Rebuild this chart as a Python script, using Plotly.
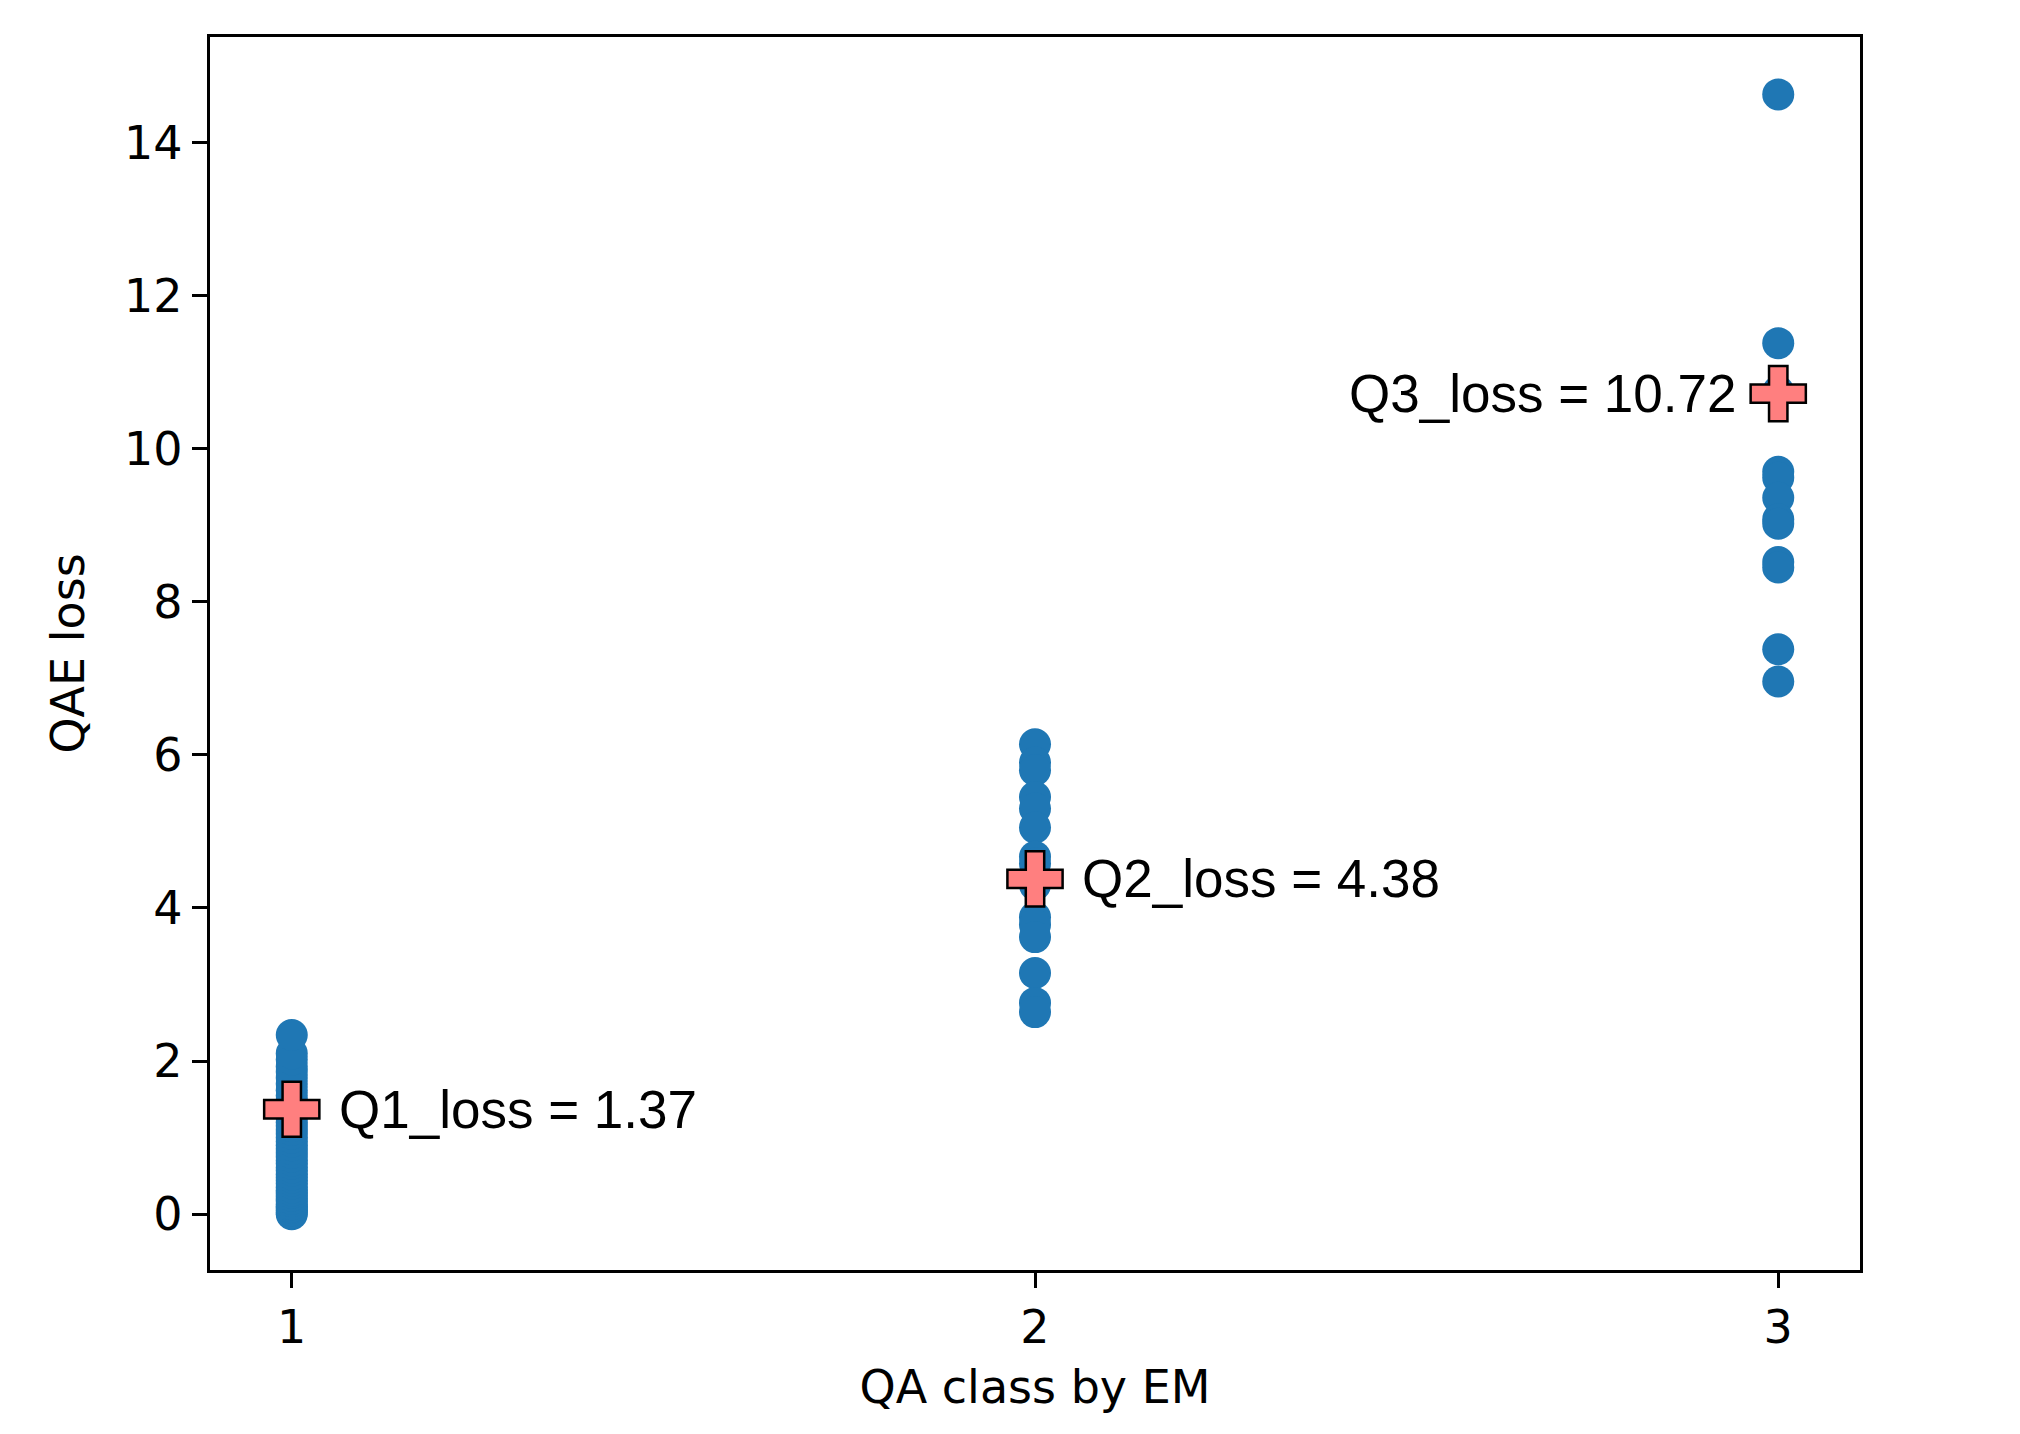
import plotly.graph_objects as go

# QAE loss per sample, grouped by the QA class assigned by EM
q1_loss = [0.00, 0.02, 0.05, 0.08, 0.10, 0.13, 0.17, 0.20, 0.24, 0.28, 0.31, 0.35,
           0.40, 0.44, 0.48, 0.52, 0.57, 0.61, 0.66, 0.70, 0.75, 0.80, 0.85, 0.90,
           0.95, 1.00, 1.05, 1.10, 1.15, 1.20, 1.26, 1.31, 1.37, 1.42, 1.48, 1.55,
           1.62, 1.70, 1.78, 1.86, 1.93, 2.02, 2.10, 2.34]
q2_loss = [6.14, 5.90, 5.80, 5.45, 5.30, 5.05, 4.67, 4.58, 4.42, 4.30,
           3.88, 3.78, 3.62, 3.15, 2.76, 2.64]
q3_loss = [14.63, 11.38, 10.75, 9.70, 9.62, 9.36, 9.08, 9.02, 8.52, 8.45, 7.38, 6.96]

# Per-class loss summary
class_ids = [1, 2, 3]
class_names = ["Q1_loss", "Q2_loss", "Q3_loss"]
class_loss = [1.37, 4.38, 10.72]

x_ticks = [1, 2, 3]
y_ticks = [0, 2, 4, 6, 8, 10, 12, 14]

groups = [q1_loss, q2_loss, q3_loss]
xs, ys = [], []
for cid, vals in zip(class_ids, groups):
    xs.extend([cid] * len(vals))
    ys.extend(vals)

fig = go.Figure()
fig.add_trace(go.Scatter(
    x=xs, y=ys, mode="markers",
    marker=dict(color="#1f77b4", size=32, line=dict(width=0)),
    showlegend=False, hoverinfo="x+y",
))
fig.add_trace(go.Scatter(
    x=class_ids, y=class_loss, mode="markers",
    marker=dict(symbol="cross", color="#ff7f7f", size=46,
                line=dict(color="black", width=2.5)),
    showlegend=False, hoverinfo="x+y",
))

label_font = dict(family="Liberation Sans, Arial, Helvetica, sans-serif", size=53, color="black")
for cid, name, val in zip(class_ids, class_names, class_loss):
    right_side = cid < 3
    fig.add_annotation(
        x=cid, y=val, xref="x", yref="y",
        text=f"{name} = {val:.2f}",
        showarrow=False,
        xanchor="left" if right_side else "right",
        yanchor="middle",
        xshift=45 if right_side else -40,
        font=label_font,
    )

axis_font = dict(family="DejaVu Sans, sans-serif", size=46, color="black")
common = dict(
    showline=True, linecolor="black", linewidth=3.3, mirror=True,
    ticks="outside", ticklen=15, tickwidth=3.3, tickcolor="black",
    showgrid=False, zeroline=False, tickfont=axis_font,
)

fig.update_xaxes(
    range=[0.89, 3.11], tickvals=x_ticks, ticktext=[str(t) for t in x_ticks],
    title=dict(text="QA class by EM", font=axis_font, standoff=18),
    **common,
)
fig.update_yaxes(
    range=[-0.73, 15.38], tickvals=y_ticks, ticktext=[str(t) for t in y_ticks],
    title=dict(text="QAE loss", font=axis_font, standoff=26),
    **common,
)

fig.update_layout(
    width=2020, height=1434, autosize=False,
    margin=dict(l=210, r=160, t=37, b=164),
    paper_bgcolor="white", plot_bgcolor="white",
)

fig.write_html("out.html")
